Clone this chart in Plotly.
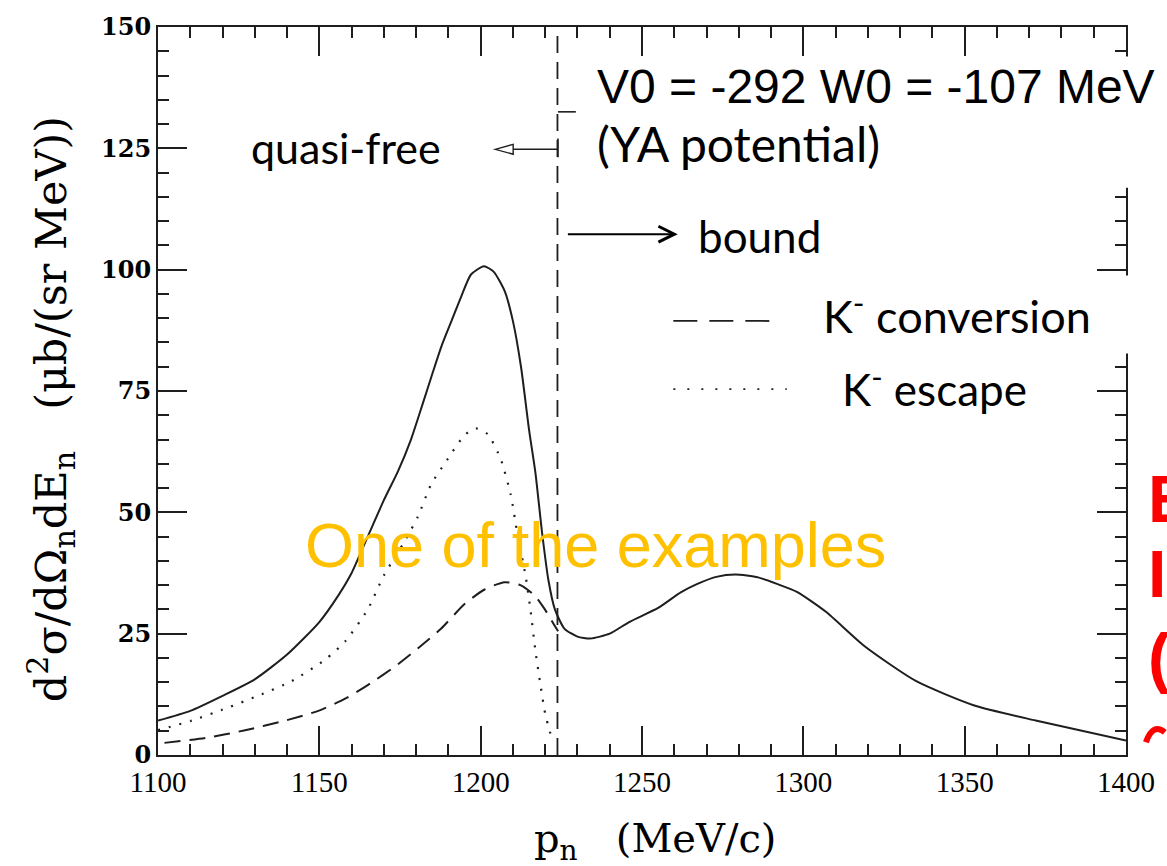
import plotly.graph_objects as go

# ---- data -------------------------------------------------------------
# total spectrum
p_total = [1100, 1110, 1120, 1130, 1140, 1150, 1156, 1160, 1165, 1170, 1174.4,
           1178.4, 1182.1, 1185, 1188, 1191, 1194, 1197, 1201, 1204, 1207.5,
           1210, 1212.5, 1215, 1217, 1219, 1221, 1223, 1226, 1230, 1234,
           1240, 1246, 1255, 1262, 1267, 1273, 1279, 1286, 1292, 1298,
           1307, 1319, 1335, 1353, 1372, 1400]
xs_total = [7.1, 9.1, 12.2, 15.6, 20.7, 27.4, 33.0, 37.5, 45.0, 52.5, 58.5,
            65.0, 72.5, 78.5, 84.5, 89.5, 94.5, 99.0, 100.7, 99.6, 95.5,
            89.4, 80.0, 67.0, 58.0, 46.0, 36.0, 30.0, 26.0, 24.4, 24.0,
            25.0, 27.4, 30.3, 33.5, 35.2, 36.7, 37.2, 36.6, 35.2, 33.6,
            29.5, 22.4, 15.2, 10.2, 7.1, 3.0]

# K- escape component
p_escape = [1100, 1110.5, 1121, 1131, 1141.4, 1151.9, 1158, 1165, 1170,
            1176.5, 1180.6, 1184.6, 1189.8, 1195, 1198.5, 1202.2, 1206.2,
            1209.3, 1211.4, 1213.9, 1215.4, 1217, 1218.5, 1220, 1222.2]
xs_escape = [5.1, 7.1, 9.6, 12.2, 15.2, 19.7, 23.4, 30.0, 37.0,
             44.1, 49.2, 55.7, 61.0, 65.9, 67.3, 66.1, 61.0,
             53.7, 45.5, 37.0, 30.1, 21.3, 14.6, 8.5, 3.0]

# K- conversion component
p_conv = [1102, 1114.8, 1127, 1139.5, 1149.7, 1158, 1165, 1174.4, 1180.6,
          1187.7, 1195, 1201.2, 1207.4, 1212.3, 1216.7, 1219.8, 1222.8, 1224]
xs_conv = [2.5, 3.5, 5.1, 7.1, 9.1, 11.6, 14.4, 18.7, 22.0,
           26.0, 31.1, 34.1, 35.6, 35.0, 32.9, 30.1, 26.8, 25.5]

# boundary between quasi-free and bound regions
p_threshold = 1223.8

x_ticks = [1100, 1150, 1200, 1250, 1300, 1350, 1400]
y_ticks = [0, 25, 50, 75, 100, 125, 150]
x_minor_step = 10
y_minor_step = 5

# ---- geometry helpers ---------------------------------------------------
W, H = 1167, 866
ML, MR, MT, MB = 158, 36, 17, 111
PW, PH = W - ML - MR, H - MT - MB


def px(xp):
    return (xp - ML) / PW


def py(yp):
    return (H - MB - yp) / PH


INK = "#1e1e1e"

fig = go.Figure()

fig.add_trace(go.Scatter(x=p_total, y=xs_total, mode="lines",
                         line=dict(color=INK, width=2, shape="spline", smoothing=0.6),
                         showlegend=False, hoverinfo="skip"))
fig.add_trace(go.Scatter(x=p_escape, y=xs_escape, mode="lines",
                         line=dict(color=INK, width=2.2, dash="2px,9px", shape="spline", smoothing=0.6),
                         showlegend=False, hoverinfo="skip"))
fig.add_trace(go.Scatter(x=p_conv, y=xs_conv, mode="lines",
                         line=dict(color=INK, width=2, dash="16px,9px", shape="spline", smoothing=0.6),
                         showlegend=False, hoverinfo="skip"))

shapes = []

# vertical threshold line
shapes.append(dict(type="line", xref="x", yref="paper", x0=p_threshold, x1=p_threshold,
                   y0=0, y1=1, line=dict(color=INK, width=1.8, dash="17px,9px")))

# white text panels laid over the frame
shapes.append(dict(type="rect", xref="paper", yref="paper", layer="above",
                   x0=px(582), x1=px(1167), y0=py(180), y1=py(47),
                   fillcolor="white", line=dict(width=0)))
shapes.append(dict(type="rect", xref="paper", yref="paper", layer="above",
                   x0=px(800), x1=px(1167), y0=py(348), y1=py(269),
                   fillcolor="white", line=dict(width=0)))

# legend samples
shapes.append(dict(type="line", xref="paper", yref="paper", layer="above",
                   x0=px(676), x1=px(778), y0=py(315), y1=py(315),
                   line=dict(color=INK, width=1.8, dash="24px,12px")))
shapes.append(dict(type="line", xref="paper", yref="paper", layer="above",
                   x0=px(676), x1=px(790), y0=py(384), y1=py(384),
                   line=dict(color=INK, width=1.8, dash="2px,12px")))

# quasi-free arrow (open head) and small bracket ticks on the threshold line
shapes.append(dict(type="line", xref="paper", yref="paper", layer="above",
                   x0=px(514), x1=px(560), y0=py(141), y1=py(141),
                   line=dict(color=INK, width=1.6)))
shapes.append(dict(type="path", xref="paper", yref="paper", layer="above",
                   path="M {},{} L {},{} L {},{} Z".format(px(497), py(141), px(515), py(136),
                                                           px(515), py(146)),
                   fillcolor="white", line=dict(color=INK, width=1.4)))
shapes.append(dict(type="line", xref="paper", yref="paper", layer="above",
                   x0=px(560), x1=px(560), y0=py(130), y1=py(149),
                   line=dict(color=INK, width=1.6)))
shapes.append(dict(type="line", xref="paper", yref="paper", layer="above",
                   x0=px(560), x1=px(578), y0=py(103), y1=py(103),
                   line=dict(color=INK, width=1.6)))

# bound arrow
shapes.append(dict(type="line", xref="paper", yref="paper", layer="above",
                   x0=px(570), x1=px(676), y0=py(227), y1=py(227),
                   line=dict(color="black", width=2)))
shapes.append(dict(type="path", xref="paper", yref="paper", layer="above",
                   path="M {},{} L {},{} L {},{}".format(px(661), py(219), px(677), py(227),
                                                         px(661), py(235)),
                   line=dict(color="black", width=3)))

# partially visible red glyph at the lower right edge
shapes.append(dict(type="path", xref="paper", yref="paper", layer="above",
                   path="M {},{} Q {},{} {},{}".format(px(1151), py(742), px(1158), py(722),
                                                        px(1170), py(732)),
                   line=dict(color="#ff0000", width=6)))

annotations = []


def label(text, x, y, size, family, color="black", xanchor="left", **kw):
    annotations.append(dict(text=text, x=px(x), y=py(y), xref="paper", yref="paper",
                            xanchor=xanchor, yanchor="middle", showarrow=False,
                            font=dict(size=size, family=family, color=color), **kw))


SANS = "Liberation Sans, Arial"
HUM = "Lato, Open Sans"
SERIF = "DejaVu Serif"

label("V0 = -292 W0 = -107 MeV", 597, 77, 48, SANS)
label("(YA potential)", 597, 135, 48, HUM)
label("quasi-free", 249, 139, 43, HUM)
label("bound", 699, 229, 44, HUM)
label("K<sup>-</sup> conversion", 824, 307, 45, HUM)
label("K<sup>-</sup> escape", 844, 381, 44, HUM)
label("One of the examples", 598, 542, 63, SANS, color="#FFC000", xanchor="center")

# red slide text running off the right edge
for txt, yy in [("E", 495), ("I", 572), ("(", 656)]:
    annotations.append(dict(text="<b>" + txt + "</b>", x=px(1151), y=py(yy), xref="paper",
                            yref="paper", xanchor="left", yanchor="middle", showarrow=False,
                            font=dict(size=66, family=SANS, color="#ff0000")))

# axis titles
label("p<sub>n</sub>   (MeV/c)", 658, 842, 40, SERIF, xanchor="center")
annotations.append(dict(text="d<sup>2</sup>σ/dΩ<sub>n</sub>dE<sub>n</sub>   (μb/(sr MeV))",
                        x=px(50), y=py(405), xref="paper", yref="paper", textangle=-90,
                        xanchor="center", yanchor="middle", showarrow=False,
                        font=dict(size=43, family=SERIF, color="black")))

axis_common = dict(showline=True, linewidth=2, linecolor=INK, mirror="allticks",
                   ticks="inside", ticklen=29, tickwidth=2, tickcolor=INK,
                   showgrid=False, zeroline=False, tickmode="linear")

fig.update_layout(
    width=W, height=H,
    margin=dict(l=ML, r=MR, t=MT, b=MB),
    paper_bgcolor="white", plot_bgcolor="white",
    shapes=shapes, annotations=annotations,
    xaxis=dict(range=[x_ticks[0], x_ticks[-1]], tick0=x_ticks[0], dtick=x_ticks[1] - x_ticks[0],
               tickfont=dict(size=29, family="Liberation Serif", color="black"),
               minor=dict(dtick=x_minor_step, ticklen=11, tickwidth=2, tickcolor=INK,
                          ticks="inside"),
               **axis_common),
    yaxis=dict(range=[y_ticks[0], y_ticks[-1]], tick0=y_ticks[0], dtick=y_ticks[1] - y_ticks[0],
               tickfont=dict(size=24, family="DejaVu Serif", color="black", weight="bold"),
               minor=dict(dtick=y_minor_step, ticklen=11, tickwidth=2, tickcolor=INK,
                          ticks="inside"),
               **axis_common),
)

fig.write_html("out.html")
